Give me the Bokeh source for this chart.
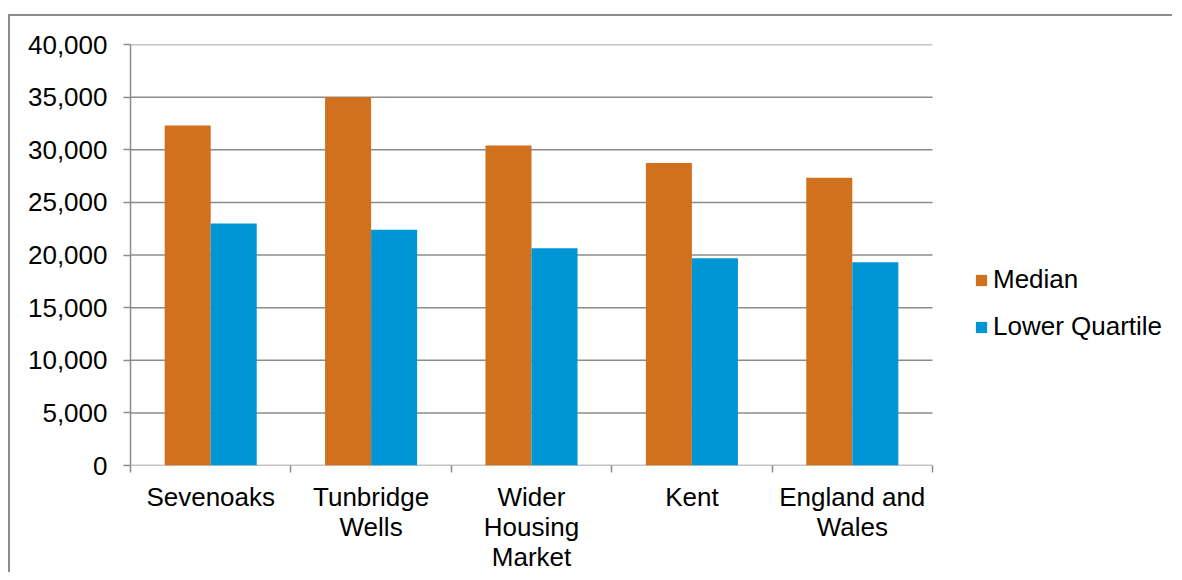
from bokeh.plotting import figure
from bokeh.models import (FixedTicker, NumeralTickFormatter, Legend, LegendItem, Range1d)
from bokeh.embed import file_html
from bokeh.resources import INLINE

categories = ["Sevenoaks", "Tunbridge Wells", "Wider Housing Market", "Kent", "England and Wales"]
tick_labels = ["Sevenoaks", "Tunbridge\nWells", "Wider\nHousing\nMarket", "Kent", "England and\nWales"]
median = [32300, 35000, 30400, 28750, 27350]
lower_quartile = [23000, 22400, 20650, 19700, 19300]
y_ticks = [0, 5000, 10000, 15000, 20000, 25000, 30000, 35000, 40000]

MEDIAN_COLOR = "#D2711D"
LQ_COLOR = "#0096D6"
GRID = "#8c8c8c"
FONT = "Liberation Sans"
FS = "26px"

n = len(categories)
W, H = 1164, 558
# plot frame spans the full right side so the legend can sit beside the categories
x_end = n * (1164 - 120) / 802.0
p = figure(width=W, height=H, output_backend="svg", toolbar_location=None,
           x_range=Range1d(0, x_end), y_range=Range1d(0, 40000),
           min_border_left=120, min_border_right=0, min_border_top=28, min_border_bottom=108)
p.styles = {"border-top": "2px solid #8c8c8c", "border-left": "2px solid #8c8c8c",
            "margin-top": "14px", "margin-left": "8px"}

centers = [i + 0.5 for i in range(n)]
bw = 0.287
x_med = [c - bw / 2 for c in centers]
x_lq = [c + bw / 2 for c in centers]

# horizontal gridlines across the category area only
p.segment(x0=[0] * len(y_ticks), x1=[n] * len(y_ticks), y0=y_ticks, y1=y_ticks,
          line_color=GRID, line_width=1.5)

r1 = p.vbar(x=x_med, top=median, width=bw, fill_color=MEDIAN_COLOR, line_color=None)
r2 = p.vbar(x=x_lq, top=lower_quartile, width=bw, fill_color=LQ_COLOR, line_color=None)

p.outline_line_color = None
p.xgrid.grid_line_color = None
p.ygrid.grid_line_color = None

p.yaxis.ticker = FixedTicker(ticks=y_ticks)
p.yaxis.formatter = NumeralTickFormatter(format="0,0")
p.yaxis.axis_line_color = GRID
p.yaxis.axis_line_width = 1.5
p.yaxis.major_tick_line_color = GRID
p.yaxis.major_tick_line_width = 1.5
p.yaxis.major_tick_out = 7
p.yaxis.major_tick_in = 0
p.yaxis.minor_tick_line_color = None
p.yaxis.major_label_standoff = 16
p.yaxis.major_label_text_font = FONT
p.yaxis.major_label_text_font_size = FS
p.yaxis.major_label_text_color = "black"

p.xaxis.ticker = FixedTicker(ticks=centers, minor_ticks=list(range(n + 1)))
p.xaxis.major_label_overrides = {c: lbl for c, lbl in zip(centers, tick_labels)}
p.xaxis.axis_line_color = None
p.xaxis.major_tick_line_color = None
p.xaxis.major_tick_out = 0
p.xaxis.major_tick_in = 0
p.xaxis.minor_tick_line_color = GRID
p.xaxis.minor_tick_line_width = 1.5
p.xaxis.minor_tick_out = 7
p.xaxis.minor_tick_in = 0
p.xaxis.major_label_standoff = 9
p.xaxis.major_label_text_font = FONT
p.xaxis.major_label_text_font_size = FS
p.xaxis.major_label_text_color = "black"
p.xaxis.major_label_text_line_height = 1.0

legend = Legend(items=[LegendItem(label="Median", renderers=[r1]),
                       LegendItem(label="Lower Quartile", renderers=[r2])],
                location=(844, 123), padding=0, margin=0, border_line_color=None,
                background_fill_alpha=0, glyph_width=14, glyph_height=14,
                label_standoff=5, label_height=30, spacing=16,
                label_text_font=FONT, label_text_font_size=FS, label_text_color="black")
p.add_layout(legend, "center")

open("out.html", "w").write(file_html(p, INLINE))
